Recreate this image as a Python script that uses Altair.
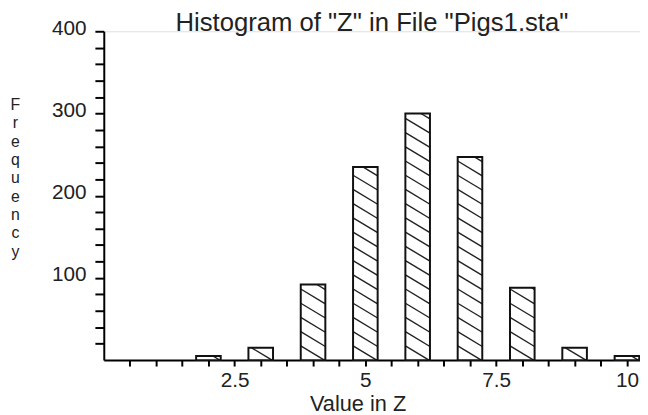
import altair as alt
import pandas as pd

# ---- data ----
centers = [2, 3, 4, 5, 6, 7, 8, 9, 10]
counts = [5, 15, 92, 235, 300, 247, 88, 15, 5]
y_tick_values = list(range(20, 401, 20))
x_tick_values = [0.5 * i for i in range(1, 21)]
chart_title = 'Histogram of "Z" in File "Pigs1.sta"'
x_title = "Value in Z"
y_title = "Frequency"

HALF = 0.235      # half bar width (data units)
SPACING = 17.3    # vertical spacing of hatch lines (data units)
DROP = 18.0       # drop of each hatch line across a bar (data units)

bars = pd.DataFrame({"z": centers, "n": counts})
bars["x0"] = bars["z"] - HALF
bars["x1"] = bars["z"] + HALF
bars["y0"] = 0

# hatch segments derived from the bar values, clipped to each bar
rows = []
for c, h in zip(centers, counts):
    k = 1
    while True:
        a = k * SPACING
        if a - DROP >= h:
            break
        t0 = max(0.0, (a - h) / DROP)
        t1 = min(1.0, a / DROP)
        if t1 > t0:
            rows.append({
                "xa": c - HALF + 2 * HALF * t0, "ya": a - DROP * t0,
                "xb": c - HALF + 2 * HALF * t1, "yb": a - DROP * t1,
            })
        k += 1
hatch = pd.DataFrame(rows)

FONT = "Liberation Sans"
TXT = "#222222"

x_scale = alt.Scale(domain=[0, 10.25], nice=False, zero=False)
y_scale = alt.Scale(domain=[0, 400], nice=False)

x_axis = alt.Axis(
    values=x_tick_values,
    labelExpr="datum.value % 2.5 == 0 ? toString(datum.value) : ''",
    grid=False, tickSize=6, tickWidth=2, tickColor="black",
    domainColor="black", domainWidth=2,
    labelFontSize=21, labelFont=FONT, labelColor=TXT, labelPadding=4,
    labelFlush=False, labelOverlap=False,
    title=x_title, titleFontSize=22, titleFont=FONT, titleColor=TXT,
    titleFontWeight="normal", titleX=257, titleY=51, titleAlign="center",
    titleBaseline="alphabetic",
)
y_axis = alt.Axis(
    values=y_tick_values,
    labelExpr="datum.value % 100 == 0 ? datum.label : ''",
    grid=False, tickSize=9, tickWidth=2, tickColor="black",
    domainColor="black", domainWidth=2,
    labelFontSize=21, labelFont=FONT, labelColor=TXT, labelPadding=9,
    labelOffset=-3,
    labelFlush=False, labelOverlap=False,
    title=list(y_title), titleAngle=0, titleFontSize=16, titleFont=FONT,
    titleColor=TXT, titleFontWeight="normal", titleX=-90, titleY=66,
    titleAlign="center", titleBaseline="top", titleLineHeight=18.6,
)

fill = alt.Chart(bars).mark_rect(fill="white", stroke=None).encode(
    x=alt.X("x0:Q", scale=x_scale, axis=x_axis),
    x2="x1:Q",
    y=alt.Y("n:Q", scale=y_scale, axis=y_axis),
    y2="y0:Q",
)

lines = alt.Chart(hatch).mark_rule(color="#222222", strokeWidth=1.4).encode(
    x=alt.X("xa:Q", scale=x_scale, axis=x_axis),
    x2="xb:Q",
    y=alt.Y("ya:Q", scale=y_scale, axis=y_axis),
    y2="yb:Q",
)

outline = alt.Chart(bars).mark_rect(
    fillOpacity=0, stroke="#111111", strokeWidth=2
).encode(
    x=alt.X("x0:Q", scale=x_scale, axis=x_axis),
    x2="x1:Q",
    y=alt.Y("n:Q", scale=y_scale, axis=y_axis),
    y2="y0:Q",
)

chart = alt.layer(fill, lines, outline).properties(
    width=543,
    height=333,
    autosize=alt.AutoSizeParams(type="none"),
    padding={"left": 97, "top": 21, "right": 0, "bottom": 53},
    title=alt.TitleParams(
        chart_title, fontSize=26, font=FONT, color=TXT, fontWeight="normal",
        anchor="middle", frame="group", offset=-19,
    ),
).configure_view(stroke=None).configure(background="white")

chart.save("out.html", embed_options={"renderer": "svg", "actions": False})
